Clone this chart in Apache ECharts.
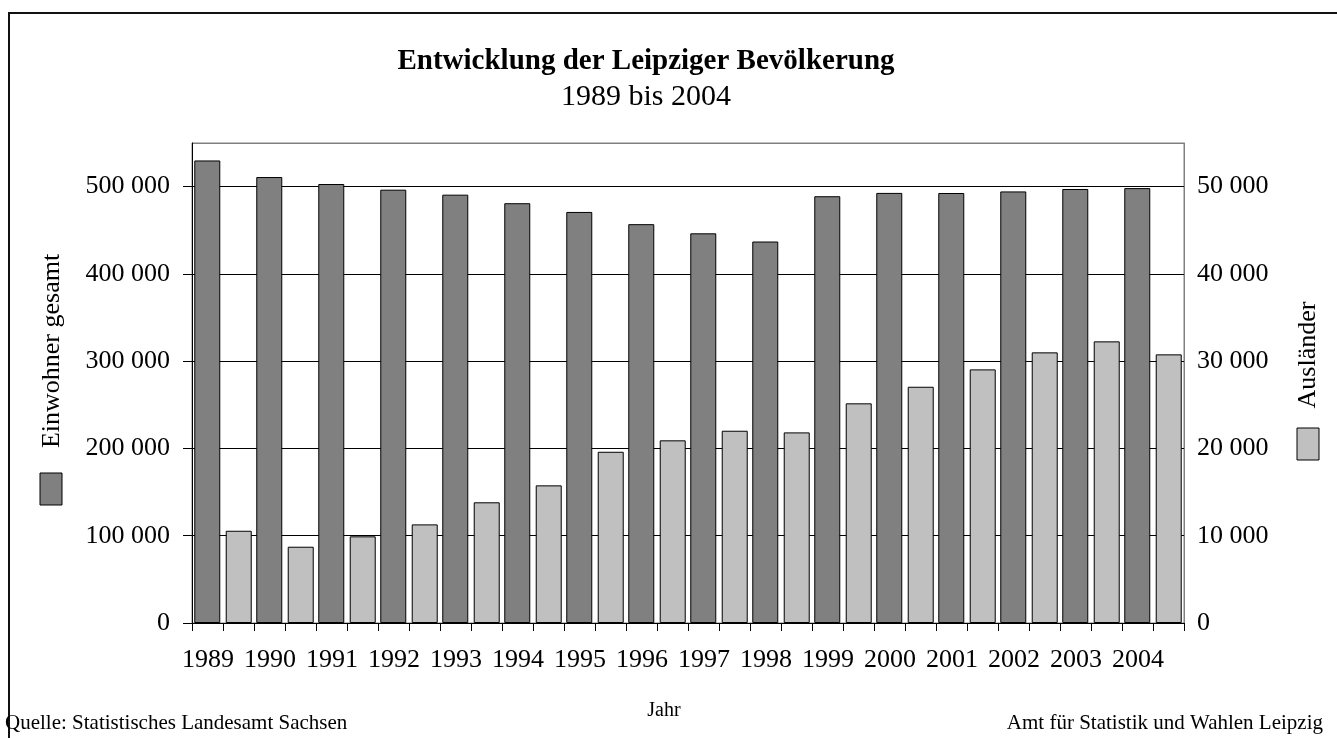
<!DOCTYPE html>
<html>
<head>
<meta charset="utf-8">
<script src="https://cdn.jsdelivr.net/npm/echarts@6/dist/echarts.min.js"></script>
<style>
  html, body { margin: 0; padding: 0; background: #fff; }
  #chart { width: 1337px; height: 738px; }
</style>
</head>
<body>
<div id="chart"></div>
<script>
// Daten
const years = ['1989', '1990', '1991', '1992', '1993', '1994', '1995', '1996',
               '1997', '1998', '1999', '2000', '2001', '2002', '2003', '2004'];
// Einwohner gesamt (linke Achse)
const einwohner = [530000, 511000, 503000, 496500, 490800, 481000, 471000, 457000,
                   446500, 437100, 489000, 492800, 492700, 494500, 497300, 498300];
// Ausländer (rechte Achse)
const auslaender = [10570, 8740, 9930, 11300, 13830, 15770, 19620, 20930,
                    22030, 21840, 25170, 27070, 29060, 31010, 32270, 30780];
const leftTicks = [0, 100000, 200000, 300000, 400000, 500000];
const rightTicks = [0, 10000, 20000, 30000, 40000, 50000];

const FONT = 'Liberation Serif';
const fmt = v => String(v).replace(/\B(?=(\d{3})+(?!\d))/g, ' ');

const chart = echarts.init(document.getElementById('chart'));

const option = {
    backgroundColor: '#fff',
    animation: false,
    title: {
        text: 'Entwicklung der Leipziger Bevölkerung',
        subtext: '1989 bis 2004',
        left: 641,
        top: 42,
        textAlign: 'center',
        itemGap: 6,
        textStyle: { fontFamily: FONT, fontSize: 29, fontWeight: 'bold', color: '#000' },
        subtextStyle: { fontFamily: FONT, fontSize: 30, color: '#000' }
    },
    grid: {
        left: 192,
        right: 153,
        top: 143,
        bottom: 115,
        outerBoundsMode: 'none',
        show: true,
        borderColor: '#808080',
        borderWidth: 1,
        backgroundColor: 'transparent'
    },
    xAxis: [
        {
            type: 'category',
            data: years,
            position: 'bottom',
            axisLine: { show: true, lineStyle: { color: '#000', width: 1 } },
            axisTick: { show: false },
            axisLabel: {
                fontFamily: FONT, fontSize: 26, color: '#000', margin: 24, interval: 0,
                padding: [0, 30, 0, 0]
            }
        },
        {
            // nur fuer die Teilstriche (zwei pro Jahr)
            type: 'category',
            data: years.flatMap(y => [y + 'a', y + 'b']),
            position: 'bottom',
            axisLine: { show: false },
            axisTick: { show: true, length: 8, interval: 0, lineStyle: { color: '#000' } },
            axisLabel: { show: false },
            splitLine: { show: false }
        }
    ],
    yAxis: [
        {
            type: 'value',
            min: leftTicks[0],
            max: 550000,
            interval: leftTicks[1] - leftTicks[0],
            position: 'left',
            axisLine: { show: true, lineStyle: { color: '#000' } },
            axisTick: { show: true, length: 9, lineStyle: { color: '#000' } },
            axisLabel: {
                fontFamily: FONT, fontSize: 26, color: '#000', margin: 22,
                showMaxLabel: false, formatter: fmt
            },
            splitLine: {
                show: true,
                lineStyle: { color: ['#000', '#000', '#000', '#000', '#000', '#000', '#808080'], width: 1 }
            }
        },
        {
            type: 'value',
            min: rightTicks[0],
            max: 55000,
            interval: rightTicks[1] - rightTicks[0],
            position: 'right',
            axisLine: { show: true, lineStyle: { color: '#808080' } },
            axisTick: { show: true, inside: true, length: 5, lineStyle: { color: '#000' } },
            axisLabel: {
                fontFamily: FONT, fontSize: 26, color: '#000', margin: 13,
                showMaxLabel: false, formatter: fmt
            },
            splitLine: { show: false }
        }
    ],
    series: [
        {
            name: 'Einwohner gesamt',
            type: 'bar',
            xAxisIndex: 0,
            yAxisIndex: 0,
            data: einwohner,
            barWidth: 26,
            barGap: '21%',
            itemStyle: { color: '#808080', borderColor: '#000', borderWidth: 1 }
        },
        {
            name: 'Ausländer',
            type: 'bar',
            xAxisIndex: 0,
            yAxisIndex: 1,
            data: auslaender,
            barWidth: 26,
            barGap: '21%',
            itemStyle: { color: '#c0c0c0', borderColor: '#000', borderWidth: 1 }
        }
    ],
    graphic: [
        // Rahmen
        {
            type: 'rect', silent: true,
            shape: { x: 9, y: 13, width: 1400, height: 800 },
            style: { fill: 'none', stroke: '#111', lineWidth: 2 }
        },
        // Legende links
        {
            type: 'text', x: 52, y: 351, rotation: Math.PI / 2,
            style: { text: 'Einwohner gesamt', font: '26px "Liberation Serif"', fill: '#000',
                     align: 'center', verticalAlign: 'middle', textAlign: 'center', textVerticalAlign: 'middle' }
        },
        {
            type: 'rect',
            shape: { x: 40, y: 473, width: 22, height: 32 },
            style: { fill: '#808080', stroke: '#000', lineWidth: 1 }
        },
        // Legende rechts
        {
            type: 'text', x: 1308, y: 355, rotation: Math.PI / 2,
            style: { text: 'Ausländer', font: '26px "Liberation Serif"', fill: '#000',
                     align: 'center', verticalAlign: 'middle', textAlign: 'center', textVerticalAlign: 'middle' }
        },
        {
            type: 'rect',
            shape: { x: 1297, y: 428, width: 22, height: 32 },
            style: { fill: '#c0c0c0', stroke: '#000', lineWidth: 1 }
        },
        // Achsentitel und Quellen
        {
            type: 'text', x: 664, y: 711,
            style: { text: 'Jahr', font: '20px "Liberation Serif"', fill: '#000',
                     align: 'center', verticalAlign: 'middle', textAlign: 'center', textVerticalAlign: 'middle' }
        },
        {
            type: 'text', x: 5, y: 723,
            style: { text: 'Quelle: Statistisches Landesamt Sachsen', font: '21px "Liberation Serif"', fill: '#000',
                     align: 'left', verticalAlign: 'middle', textAlign: 'left', textVerticalAlign: 'middle' }
        },
        {
            type: 'text', x: 1323, y: 723,
            style: { text: 'Amt für Statistik und Wahlen Leipzig', font: '21px "Liberation Serif"', fill: '#000',
                     align: 'right', verticalAlign: 'middle', textAlign: 'right', textVerticalAlign: 'middle' }
        }
    ]
};

chart.setOption(option);
</script>
</body>
</html>
